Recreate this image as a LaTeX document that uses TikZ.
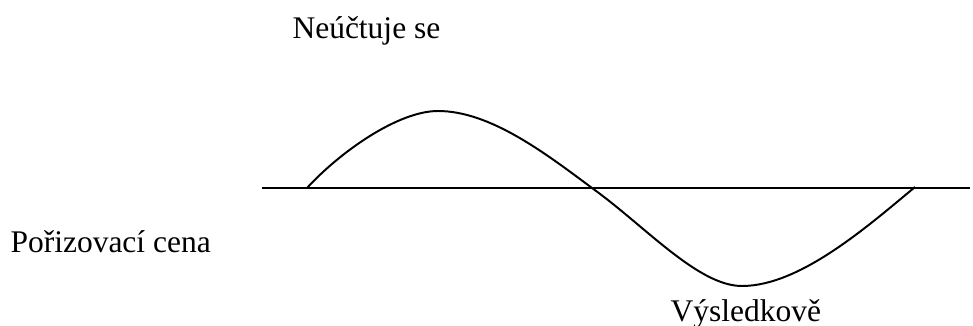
\documentclass[tikz,border=0pt]{standalone}
\usepackage{fontspec}
\setmainfont{Liberation Serif}
\usepackage{tikz}
\usetikzlibrary{positioning,calc}
\tikzset{
  lbl/.style={inner sep=0pt, anchor=base west, font=\fontsize{12}{14}\selectfont},
  axisline/.style={black, line width=0.75pt},
  wave/.style={black, line width=0.75pt},
}
\begin{document}
\begin{tikzpicture}[x=0.381pt,y=-0.381pt]
  \useasboundingbox (0,0) rectangle (973,325);
  % labels
  \node[lbl] (neuctuje) at (292,39) {Neúčtuje se};
  \node[lbl] (cena) at (10,252) {Pořizovací cena};
  \node[lbl] (vysledkove) at (670,321) {Výsledkově};
  % axis
  \coordinate (axL) at (262,188);
  \coordinate (axR) at (970,188);
  \draw[axisline] (axL) -- (axR);
  % curve
  \coordinate (start) at (307,188);
  \coordinate (peak) at (438,111);
  \coordinate (cross) at (592,188);
  \coordinate (trough) at (742,286);
  \coordinate (stop) at (915,187);
  \draw[wave] (start) .. controls (340,152) and (398,111) .. (peak)
    .. controls (490,111) and (545,153) .. (cross)
    .. controls (645,226) and (698,286) .. (trough)
    .. controls (800,286) and (868,226) .. (stop);
\end{tikzpicture}
\end{document}
